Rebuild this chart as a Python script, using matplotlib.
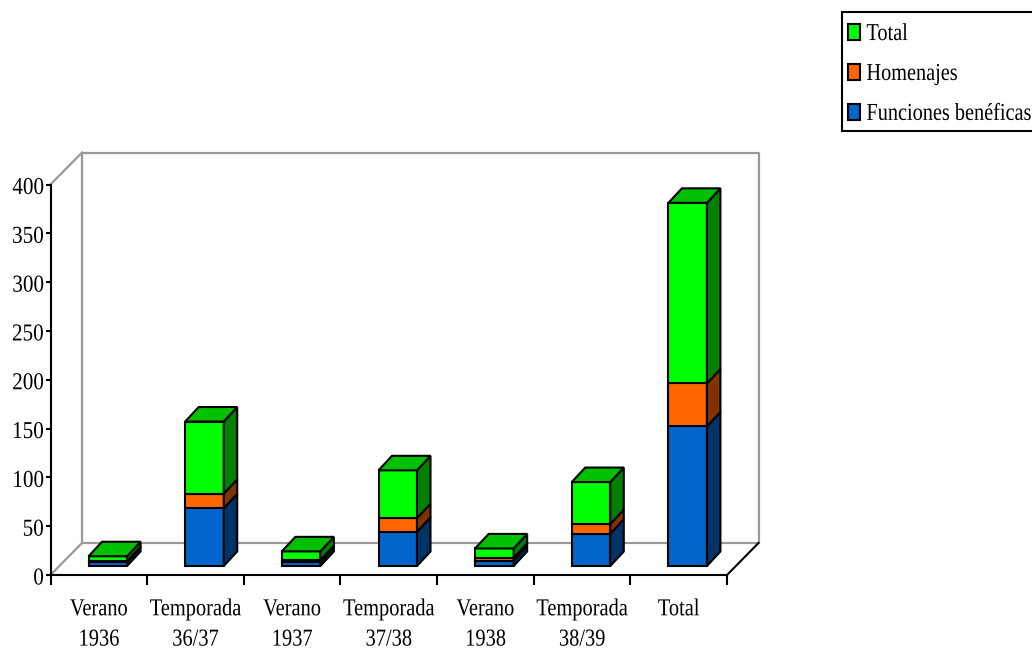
import matplotlib
matplotlib.use("Agg")
import matplotlib.pyplot as plt
from matplotlib.patches import Patch, Polygon, Rectangle
from matplotlib.patheffects import AbstractPathEffect
from matplotlib.transforms import Affine2D

# data
categories = ["Verano\n1936", "Temporada\n36/37", "Verano\n1937", "Temporada\n37/38",
              "Verano\n1938", "Temporada\n38/39", "Total"]
funciones = [4, 59, 4, 35, 5.5, 33, 143]
homenajes = [1, 15, 2, 14, 3, 10, 44]
total = [5, 74, 9, 49, 9.5, 43, 185]
yticks = [0, 50, 100, 150, 200, 250, 300, 350, 400]

names = ["Funciones benéficas", "Homenajes", "Total"]
values = [funciones, homenajes, total]
front = ["#0066CC", "#FF6600", "#00FF00"]
side = ["#003366", "#803300", "#008000"]
top_col = "#00C000"


class Squeeze(AbstractPathEffect):
    """Reshape a line of text about a horizontal anchor (0 left, .5 centre, 1 right)."""

    def __init__(self, kx, anchor, ky=1.0, shift_y=0.0):
        super().__init__()
        self.kx, self.ky, self.anchor, self.shift_y = kx, ky, anchor, shift_y

    def draw_path(self, renderer, gc, tpath, affine, rgbFace=None):
        e = tpath.get_extents()
        cx = e.x0 + self.anchor * e.width
        t = (Affine2D().translate(-cx, 0).scale(self.kx, self.ky).translate(cx, 0)
             + affine + Affine2D().translate(0, self.shift_y))
        renderer.draw_path(gc, tpath, t, rgbFace)


plt.rcParams["font.family"] = ["Liberation Serif", "DejaVu Serif"]
W, H = 1032, 650
FS = 17.5
FS_LEG = 14.6
fig = plt.figure(figsize=(W / 100, H / 100), dpi=100)
x0, x1, y0, y1 = 50.5, 727.0, 575.0, 184.5
ax = fig.add_axes([x0 / W, 1 - y0 / H, (x1 - x0) / W, (y0 - y1) / H])
ax.set_xlim(0, 7)
ax.set_ylim(0, 400)
ax.patch.set_visible(False)

ux = (x1 - x0) / 7          # pixels per category
uy = (y0 - y1) / 400        # pixels per value unit
LW = 1.5
GR = "#999999"

# back wall, side wall and floor
wx, wy = 31.5 / ux, 32 / uy
wall = dict(color=GR, lw=1.6, clip_on=False, zorder=1, solid_capstyle="projecting")
ax.plot([wx, wx, 7 + wx, 7 + wx, wx], [wy, 400 + wy, 400 + wy, wy, wy], **wall)
ax.plot([0, wx], [400, 400 + wy], **wall)
ax.plot([0, wx], [0, wy], **wall)
ax.plot([7, 7 + wx], [0, wy], color="black", lw=LW, clip_on=False, zorder=1.5)

# bars
bw = 38.5 / ux
ox, oy = 9 / ux, 9 / uy
dx, dy = 13.5 / ux, 14.5 / uy
for i in range(len(categories)):
    base = oy
    xc = i + 0.5 + ox
    xl, xr = xc - bw / 2, xc + bw / 2
    for s, vals in enumerate(values):
        v = vals[i]
        ax.bar(xc, v, bw, bottom=base, color=front[s], edgecolor="black", linewidth=LW,
               clip_on=False, zorder=5 + i)
        ax.add_patch(Polygon([(xr, base), (xr + dx, base + dy), (xr + dx, base + v + dy), (xr, base + v)],
                             closed=True, facecolor=side[s], edgecolor="black", linewidth=LW,
                             clip_on=False, zorder=5 + i))
        base += v
    ax.add_patch(Polygon([(xl, base), (xl + dx, base + dy), (xr + dx, base + dy), (xr, base)],
                         closed=True, facecolor=top_col, edgecolor="black", linewidth=LW,
                         clip_on=False, zorder=5 + i))

# axes
for sp in ("top", "right"):
    ax.spines[sp].set_visible(False)
for sp in ("left", "bottom"):
    ax.spines[sp].set_linewidth(LW)
    ax.spines[sp].set_zorder(4)
ax.set_yticks(yticks)
ax.tick_params(axis="y", length=3.6, width=LW, pad=1.2, labelsize=FS)
for lab in ax.get_yticklabels():
    lab.set_path_effects([Squeeze(0.87, 1, shift_y=-1.5)])
ax.set_xticks(range(8))
ax.set_xticklabels([])
ax.tick_params(axis="x", which="major", length=7, width=LW)
ax.set_xticks([i + 0.5 for i in range(7)], categories, minor=True, linespacing=1.58)
ax.tick_params(axis="x", which="minor", length=0, pad=17.5, labelsize=FS)
for lab in ax.get_xticklabels(minor=True):
    lab.set_verticalalignment("top")
    lab.set_path_effects([Squeeze(0.84, 0.5)])

# legend: frame runs past the right edge of the picture, as in the reference
fig.add_artist(Rectangle((842 / W, 1 - 131 / H), 200 / W, 119 / H, transform=fig.transFigure,
                         facecolor="white", edgecolor="black", linewidth=LW, clip_on=True))
handles = [Patch(facecolor=front[s], edgecolor="black", linewidth=LW, label=names[s]) for s in (2, 1, 0)]
leg = fig.legend(handles=handles, loc="upper left", bbox_to_anchor=(848 / W, 1 - 24 / H),
                 bbox_transform=fig.transFigure, fontsize=FS_LEG, frameon=False,
                 borderaxespad=0, borderpad=0, labelspacing=0.98,
                 handlelength=0.59, handleheight=0.84, handletextpad=0.32)
leg.set_zorder(10)
for t in leg.get_texts():
    t.set_path_effects([Squeeze(1.0, 0, ky=FS / FS_LEG, shift_y=-1)])

fig.savefig("out.png", dpi=100)
